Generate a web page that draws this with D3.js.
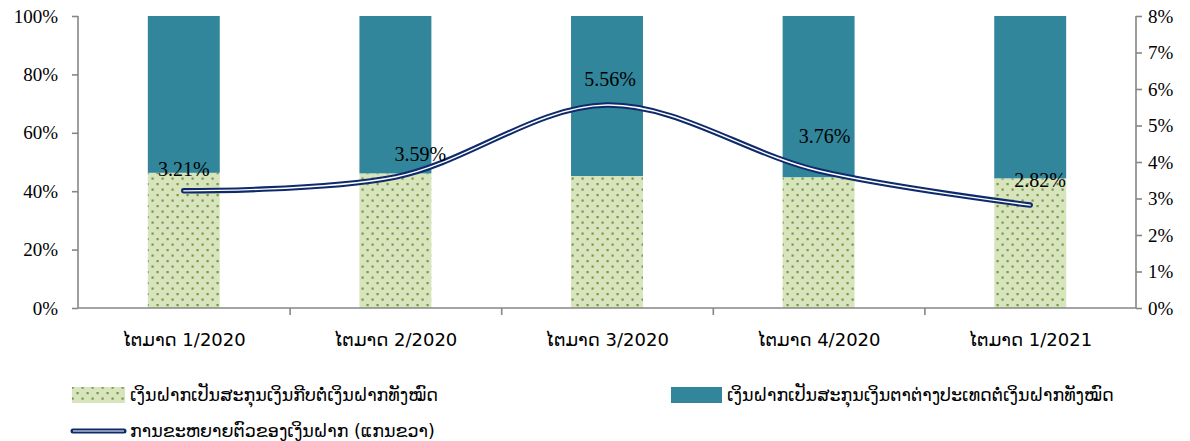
<!DOCTYPE html>
<html><head><meta charset="utf-8">
<script src="https://cdn.jsdelivr.net/npm/d3@7"></script>
<style>body{margin:0;background:#fff}svg{display:block}</style>
</head><body>
<svg id="c" width="1190" height="441"></svg>
<script>
const categories = ["ໄຕມາດ 1/2020","ໄຕມາດ 2/2020","ໄຕມາດ 3/2020","ໄຕມາດ 4/2020","ໄຕມາດ 1/2021"];
const localShare = [46.3, 46.1, 45.2, 44.8, 44.4];
const foreignShare = [53.7, 53.9, 54.8, 55.2, 55.6];
const growth = [3.21, 3.59, 5.56, 3.76, 2.82];
const leftTicks = [0,20,40,60,80,100];
const rightTicks = [0,1,2,3,4,5,6,7,8];
const legendNames = ["ເງິນຝາກເປັນສະກຸນເງິນກີບຕໍ່ເງິນຝາກທັງໝົດ","ເງິນຝາກເປັນສະກຸນເງິນຕາຕ່າງປະເທດຕໍ່ເງິນຝາກທັງໝົດ","ການຂະຫຍາຍຕົວຂອງເງິນຝາກ (ແກນຂວາ)"];
const labelNudgeX = [0, 25, 3, 6, 10];
const labelNudgeY = [-15, -16, -19, -28, -18];

const svg = d3.select("#c");
const L = 78, R = 1136, T = 16, B = 308;
const serif = "'Liberation Serif','Times New Roman',serif";
const lao = "'DejaVu Sans',sans-serif";
const axisCol = "#868686";

const defs = svg.append("defs");
const pat = defs.append("pattern").attr("id","dots").attr("patternUnits","userSpaceOnUse").attr("width",10).attr("height",11);
pat.append("rect").attr("width",10).attr("height",11).attr("fill","#d7e4bd");
pat.append("rect").attr("x",1.5).attr("y",1.5).attr("width",2.2).attr("height",2.2).attr("fill","#779a40");
pat.append("rect").attr("x",6.5).attr("y",7).attr("width",2.2).attr("height",2.2).attr("fill","#779a40");

const x = d3.scaleBand().domain(categories).range([L,R]).paddingInner(0).paddingOuter(0);
const yL = d3.scaleLinear().domain([0,100]).range([B,T]);
const yR = d3.scaleLinear().domain([0,8]).range([B,T]);
const bw = x.bandwidth()*0.34;

const g = svg.append("g");
g.selectAll(".bl").data(categories).join("rect")
  .attr("x",d=>x(d)+x.bandwidth()/2-bw/2).attr("width",bw)
  .attr("y",(d,i)=>yL(localShare[i])).attr("height",(d,i)=>B-yL(localShare[i]))
  .attr("fill","url(#dots)");
g.selectAll(".bf").data(categories).join("rect")
  .attr("x",d=>x(d)+x.bandwidth()/2-bw/2).attr("width",bw)
  .attr("y",(d,i)=>yL(localShare[i]+foreignShare[i])).attr("height",(d,i)=>yL(localShare[i])-yL(localShare[i]+foreignShare[i]))
  .attr("fill","#31869b");

const aL = svg.append("g").attr("transform",`translate(${L},0)`)
  .call(d3.axisLeft(yL).tickValues(leftTicks).tickFormat(d=>d+"%").tickSize(6).tickPadding(14));
const aR = svg.append("g").attr("transform",`translate(${R},0)`)
  .call(d3.axisRight(yR).tickValues(rightTicks).tickFormat(d=>d+"%").tickSize(6).tickPadding(6));
const xb = d3.scaleLinear().domain([0,categories.length]).range([L,R]);
const aB = svg.append("g").attr("transform",`translate(0,${B})`)
  .call(d3.axisBottom(xb).tickValues(d3.range(1,categories.length)).tickFormat("").tickSize(7).tickSizeOuter(0));
[aL,aR,aB].forEach(a=>{
  a.selectAll("path,line").attr("stroke",axisCol).attr("stroke-width",1.6);
  a.selectAll("text").attr("font-family",serif).attr("font-size",19).attr("fill","#000");
});
aL.select("path").attr("d",`M0,${T}V${B}`);
aR.select("path").attr("d",`M0,${T}V${B}`);
aB.select("path").attr("d",`M${L},0H${R}`);

svg.append("g").selectAll("text").data(categories).join("text")
  .attr("x",d=>x(d)+x.bandwidth()/2).attr("y",346)
  .attr("text-anchor","middle").attr("font-family",lao).attr("font-size",18).attr("fill","#000")
  .text(d=>d);

const line = d3.line().x((d,i)=>x(categories[i])+x.bandwidth()/2).y(d=>yR(d)).curve(d3.curveCatmullRom.alpha(0.5));
svg.append("path").attr("d",line(growth)).attr("fill","none").attr("stroke","#0f2a6b").attr("stroke-width",5.5).attr("stroke-linecap","round");
svg.append("path").attr("d",line(growth)).attr("fill","none").attr("stroke","#fff").attr("stroke-width",1.4).attr("stroke-linecap","round");

svg.append("g").selectAll("text").data(growth).join("text")
  .attr("x",(d,i)=>x(categories[i])+x.bandwidth()/2+labelNudgeX[i])
  .attr("y",(d,i)=>yR(d)+labelNudgeY[i])
  .attr("text-anchor","middle").attr("font-family",serif).attr("font-size",20).attr("fill","#000")
  .text(d=>d.toFixed(2)+"%");

const lg = svg.append("g");
lg.append("rect").attr("x",72).attr("y",387).attr("width",53).attr("height",16).attr("fill","url(#dots)");
lg.append("text").attr("x",130).attr("y",401).attr("font-family",lao).attr("font-size",17.5).text(legendNames[0]);
lg.append("rect").attr("x",671).attr("y",387).attr("width",51).attr("height",16).attr("fill","#31869b");
lg.append("text").attr("x",727).attr("y",401).attr("font-family",lao).attr("font-size",17.5).text(legendNames[1]);
lg.append("line").attr("x1",73).attr("x2",124).attr("y1",431).attr("y2",431).attr("stroke","#0f2a6b").attr("stroke-width",5).attr("stroke-linecap","round");
lg.append("line").attr("x1",73).attr("x2",124).attr("y1",431).attr("y2",431).attr("stroke","#fff").attr("stroke-width",1.2);
lg.append("text").attr("x",130).attr("y",437).attr("font-family",lao).attr("font-size",17.5).text(legendNames[2]);
</script>
</body></html>
